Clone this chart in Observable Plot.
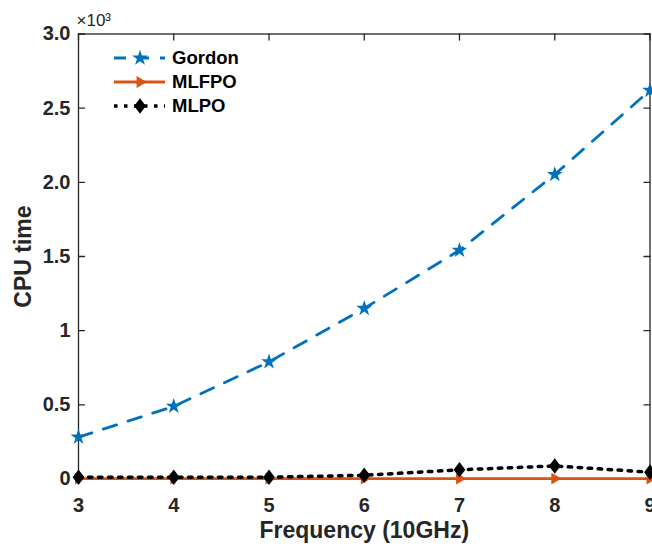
<!DOCTYPE html>
<html><head><meta charset="utf-8">
<script src="https://cdn.jsdelivr.net/npm/d3@7"></script>
<script src="https://cdn.jsdelivr.net/npm/@observablehq/plot@0.6"></script>
<style>
body{margin:0;background:#fff;}
#wrap{position:relative;width:652px;height:548px;overflow:hidden;}
#wrap svg{position:absolute;left:0;top:0;}
</style></head><body><div id="wrap"></div>
<script>
// Data (CPU time in units of 10^3)
const freq = [3, 4, 5, 6, 7, 8, 9];
const gordon = [0.282, 0.49, 0.79, 1.15, 1.542, 2.053, 2.62];
const mlfpo = [0.003, 0.003, 0.003, 0.003, 0.003, 0.003, 0.003];
const mlpo = [0.012, 0.012, 0.012, 0.025, 0.062, 0.088, 0.046];
const seriesNames = ["Gordon", "MLFPO", "MLPO"];
const xTicks = [3, 4, 5, 6, 7, 8, 9];
const yTicks = [0, 0.5, 1, 1.5, 2, 2.5, 3];
const yTickLabels = ["0", "0.5", "1", "1.5", "2.0", "2.5", "3.0"];
const xLabel = "Frequency (10GHz)";
const yLabel = "CPU time";
const exponentLabel = "×10³";

const colors = ["#0072BD", "#D95319", "#000000"];
const rows = freq.map((f, i) => ({f, gordon: gordon[i], mlfpo: mlfpo[i], mlpo: mlpo[i]}));

const tickShape = {draw(ctx, l) { ctx.moveTo(0, 0); ctx.lineTo(0, -l); }};
const diamond = {draw(ctx, size) {
  const b = Math.sqrt(size / 1.5), a = 0.75 * b;
  ctx.moveTo(0, -b); ctx.lineTo(a, 0); ctx.lineTo(0, b); ctx.lineTo(-a, 0); ctx.closePath();
}};
const axisColor = "#262626";
const font = "'Liberation Sans', Arial, Helvetica, sans-serif";

const plot = Plot.plot({
  width: 652, height: 548,
  marginLeft: 78, marginTop: 33.5, marginRight: 2.5, marginBottom: 69.5,
  x: {domain: [freq[0], freq[freq.length - 1]], axis: null},
  y: {domain: [yTicks[0], yTicks[yTicks.length - 1]], axis: null},
  style: {fontFamily: font, fontWeight: "bold", fontSize: "20px", color: axisColor, background: "#fff"},
  marks: [
    Plot.frame({stroke: axisColor, strokeWidth: 1.3}),
    Plot.vector(yTicks, {y: d => d, frameAnchor: "left", rotate: 90, length: 6, anchor: "start", shape: tickShape, stroke: axisColor, strokeWidth: 1.3}),
    Plot.vector(yTicks, {y: d => d, frameAnchor: "right", rotate: -90, length: 6, anchor: "start", shape: tickShape, stroke: axisColor, strokeWidth: 1.3}),
    Plot.vector(xTicks, {x: d => d, frameAnchor: "top", rotate: 180, length: 6, anchor: "start", shape: tickShape, stroke: axisColor, strokeWidth: 1.3}),
    Plot.text(yTicks, {y: d => d, text: d => yTickLabels[yTicks.indexOf(d)], frameAnchor: "left", textAnchor: "end", lineAnchor: "middle", dx: -8, fontSize: 20, fill: axisColor}),
    Plot.text(xTicks, {x: d => d, text: d => String(d), frameAnchor: "bottom", textAnchor: "middle", lineAnchor: "middle", dy: 27, fontSize: 20, fill: axisColor}),
    Plot.text([yLabel], {frameAnchor: "left", textAnchor: "middle", lineAnchor: "middle", dx: -55, rotate: -90, fontSize: 23, fill: axisColor}),
    Plot.text([xLabel], {frameAnchor: "bottom", textAnchor: "middle", lineAnchor: "middle", dy: 52, fontSize: 23, fill: axisColor}),
    Plot.text([exponentLabel], {frameAnchor: "top-left", textAnchor: "start", lineAnchor: "middle", dx: -2, dy: -13.5, fontSize: 17, fontWeight: "normal", fill: axisColor}),
    // Gordon
    Plot.line(rows, {x: "f", y: "gordon", stroke: colors[0], strokeWidth: 2.8, strokeDasharray: "14,12"}),
    Plot.dot(rows, {x: "f", y: "gordon", symbol: "star", r: 5, fill: colors[0]}),
    // MLFPO
    Plot.line(rows, {x: "f", y: "mlfpo", stroke: colors[1], strokeWidth: 2.8}),
    Plot.dot(rows, {x: "f", y: "mlfpo", symbol: "triangle", rotate: 90, r: 4.4, fill: colors[1]}),
    // MLPO
    Plot.line(rows, {x: "f", y: "mlpo", stroke: colors[2], strokeWidth: 3.5, strokeDasharray: "3.5,6.5"}),
    Plot.dot(rows, {x: "f", y: "mlpo", symbol: diamond, r: 5.4, fill: colors[2]})
  ]
});
document.getElementById("wrap").appendChild(plot);

// Legend overlay (inside plot, top-left, no box)
const leg = d3.select("#wrap").append("svg").attr("width", 652).attr("height", 548)
  .style("pointer-events", "none");
const legY = [58, 82, 106];
const lx1 = 114, lx2 = 165, lm = 140, lt = 172;
const dashes = ["12,11", null, "3.5,6.5"];
const widths = [2.8, 2.8, 3.5];
const symbols = [d3.symbol(d3.symbolStar, 5 * 5 * Math.PI), d3.symbol(d3.symbolTriangle, 4.4 * 4.4 * Math.PI), d3.symbol(diamond, 5.4 * 5.4 * Math.PI)];
const rot = [0, 90, 0];
seriesNames.forEach((name, i) => {
  const g = leg.append("g");
  g.append("line").attr("x1", lx1).attr("x2", lx2).attr("y1", legY[i]).attr("y2", legY[i])
    .attr("stroke", colors[i]).attr("stroke-width", widths[i]).attr("stroke-dasharray", dashes[i]);
  g.append("path").attr("d", symbols[i]()).attr("fill", colors[i])
    .attr("transform", `translate(${lm},${legY[i]}) rotate(${rot[i]})`);
  g.append("text").attr("x", lt).attr("y", legY[i]).attr("dy", "0.35em")
    .attr("font-family", font).attr("font-weight", "bold").attr("font-size", 18.5)
    .attr("fill", "#000").text(name);
});
</script>
</body></html>
